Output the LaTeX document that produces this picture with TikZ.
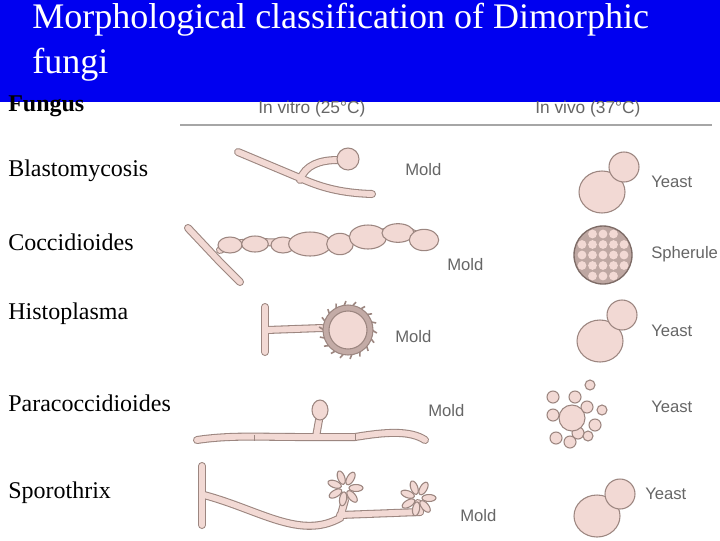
\documentclass[tikz,border=0pt]{standalone}
\usepackage{fontspec}
\setmainfont{Liberation Serif}
\newfontfamily\lbl{Liberation Sans}
\begin{document}
\begin{tikzpicture}[x=0.75pt,y=-0.75pt,
  cellc/.style={draw=edge,fill=cell,line width=0.8pt},
  lab/.style={font=\lbl\fontsize{12.5}{14}\selectfont,text=gray!80!black,anchor=west,inner sep=0},
  fname/.style={font=\fontsize{18}{20}\selectfont,anchor=west,inner sep=0},
  hypha/.style={line width=6pt,draw=edge,line cap=round},
  hyphin/.style={line width=4.4pt,draw=cell,line cap=round}]
\definecolor{cell}{HTML}{F2D9D4}
\definecolor{edge}{HTML}{9C8680}
\definecolor{band}{HTML}{0000F0}
\useasboundingbox (0,0) rectangle (720,540);
\fill[white] (0,0) rectangle (720,540);
\fill[band] (0,0) rectangle (720,102);
\node[anchor=west,text=white,inner sep=0,font=\fontsize{27}{30}\selectfont] (t1) at (32,20) {Morphological classification of Dimorphic};
\node[anchor=west,text=white,inner sep=0,font=\fontsize{27}{30}\selectfont] (t2) at (32,65) {fungi};
\node[fname,font=\bfseries\fontsize{18}{20}\selectfont] (fg) at (8,106) {Fungus};
\node[lab,font=\lbl\fontsize{13}{15}\selectfont] (hv) at (258,109) {In vitro (25°C)};
\node[lab,font=\lbl\fontsize{13}{15}\selectfont] (hw) at (535,109) {In vivo (37°C)};
\draw[gray!70,line width=1.5pt] (180,125) -- (712,125);
% names
\node[fname] (n1) at (8,171) {Blastomycosis};
\node[fname] (n2) at (8,242) {Coccidioides};
\node[fname] (n3) at (8,314) {Histoplasma};
\node[fname] (n4) at (8,403) {Paracoccidioides};
\node[fname] (n5) at (8,493) {Sporothrix};
% row 1
\foreach \s in {hypha,hyphin}{
 \draw[\s] (238,152) -- (300,178) .. controls (320,187) and (340,193) .. (372,194);
 \draw[\s] (300,180) .. controls (305,165) and (320,160) .. (338,160);}
\draw[cellc] (348,159) circle (11);
\node[lab] (m1) at (405,170) {Mold};
\draw[cellc] (602,192) ellipse (23 and 21);
\draw[cellc] (624,167) circle (15);
\node[lab] (y1) at (651,182) {Yeast};
% row 2
\foreach \s in {hypha,hyphin}{
 \draw[\s] (188,228) -- (220,262) -- (240,282);
 \draw[\s] (220,250) .. controls (235,240) and (260,242) .. (290,243) -- (330,244) .. controls (360,240) and (380,228) .. (410,232) -- (432,242);}
\foreach \p/\a/\b in {(230,245)/9/6,(255,244)/10/6,(283,245)/9/6,(310,244)/16/9,(340,244)/10/8,(368,237)/14/9,(398,233)/12/7,(424,240)/11/8}
 \draw[cellc] \p ellipse (\a pt and \b pt);
\node[lab] (m2) at (447,265) {Mold};
\draw[draw=edge!80!black,fill=edge!60!cell,line width=1pt] (603,255) circle (29);
\foreach \i in {-2,...,2}\foreach \j in {-2,...,2}{
 \pgfmathsetmacro{\d}{sqrt(\i*\i+\j*\j)}
 \ifdim\d pt<2.6pt \fill[cell] (603+\i*10.5,255+\j*10.5) circle (4.4);\fi}
\node[lab] (s2) at (651,254) {Spherule};
% row 3
\foreach \s in {hypha,hyphin}{
 \draw[\s] (265,307) -- (265,352);
 \draw[\s] (267,330) -- (322,328);}
\foreach \k in {0,20,...,340}
 \draw[edge,line width=1.2pt] (348,330)+(\k:24) -- +(\k+6:29);
\draw[draw=edge,fill=edge!55!cell,line width=0.8pt] (348,330) circle (25);
\draw[cellc] (348,330) circle (19);
\node[lab] (m3) at (395,337) {Mold};
\draw[cellc] (600,341) ellipse (23 and 21);
\draw[cellc] (622,315) circle (15);
\node[lab] (y3) at (651,331) {Yeast};
% row 4
\foreach \s in {hypha,hyphin}{
 \draw[\s] (197,440) .. controls (230,435) and (260,437) .. (300,437) -- (355,437) .. controls (385,432) and (410,430) .. (425,440);
 \draw[\s] (316,437) -- (319,420);}
\draw[edge,line width=0.6pt] (254,435) -- (254,441) (355,434) -- (355,440);
\draw[cellc] (320,410) ellipse (8 and 10);
\node[lab] (m4) at (428,411) {Mold};
\foreach \p/\r in {(553,397)/6,(575,397)/6,(590,385)/5,(553,415)/6,(587,407)/6,(602,410)/5,(595,425)/6,(578,433)/6,(556,438)/6,(570,442)/6,(588,436)/5}
 \draw[cellc] \p circle (\r);
\draw[cellc] (572,418) circle (13);
\node[lab] (y4) at (651,407) {Yeast};
% row 5
\foreach \s in {hypha,hyphin}{
 \draw[\s] (202,466) -- (202,525);
 \draw[\s] (204,495) .. controls (260,510) and (300,540) .. (340,518) -- (345,500);
 \draw[\s] (340,515) -- (420,512);
 \draw[\s] (420,512) -- (418,503);}
\foreach \cx/\cy in {345/488,418/498}
 \foreach \k in {0,50,...,310}
  \draw[cellc,rotate around={-\k:(\cx,\cy)}] (\cx+11,\cy) ellipse (7 and 3.5);
\node[lab] (m5) at (460,516) {Mold};
\draw[cellc] (597,516) ellipse (23 and 21);
\draw[cellc] (620,494) circle (15);
\node[lab] (y5) at (645,494) {Yeast};
\end{tikzpicture}
\end{document}
